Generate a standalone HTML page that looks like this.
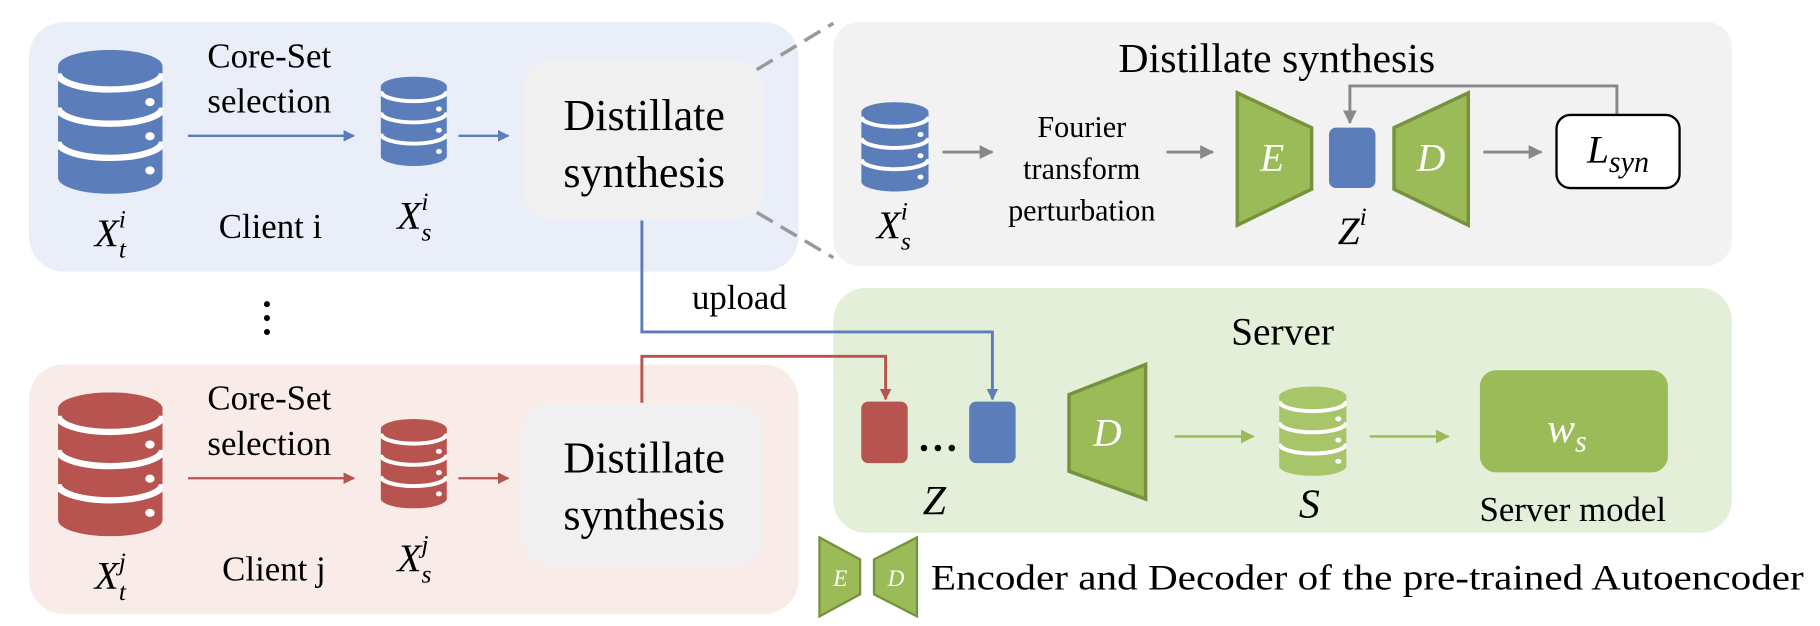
<!DOCTYPE html>
<html><head><meta charset="utf-8"><style>
html,body{margin:0;padding:0;background:#fff;width:1820px;height:626px;overflow:hidden}
svg{display:block;font-family:"Liberation Serif","Times New Roman",Times,serif}
svg text{font-family:"Liberation Serif","Times New Roman",Times,serif;fill:#000}
.m{font-style:italic}
</style></head><body>
<svg width="1820" height="626" viewBox="0 0 1568 539.3" preserveAspectRatio="none" xmlns="http://www.w3.org/2000/svg" font-family="Liberation Serif, Times New Roman, serif">
<defs>
<symbol id="db" viewBox="0 0 100 160" preserveAspectRatio="none">
<rect x="0" y="18" width="100" height="124" fill="currentColor"/>
<ellipse cx="50" cy="18" rx="50" ry="18" fill="currentColor"/>
<ellipse cx="50" cy="142" rx="50" ry="18" fill="currentColor"/>
<path d="M0,26 A50,18 0 0 0 100,26 M0,64 A50,18 0 0 0 100,64 M0,102 A50,18 0 0 0 100,102" stroke="#fff" stroke-width="7" fill="none"/>
<circle cx="88" cy="58" r="4.5" fill="#fff"/><circle cx="88" cy="96" r="4.5" fill="#fff"/><circle cx="88" cy="134" r="4.5" fill="#fff"/>
</symbol>
<marker id="ab" markerWidth="10" markerHeight="10" refX="9" refY="5" orient="auto" markerUnits="userSpaceOnUse"><path d="M0,0 L10,5 L0,10 z" fill="#5b7dba"/></marker>
<marker id="ar" markerWidth="10" markerHeight="10" refX="9" refY="5" orient="auto" markerUnits="userSpaceOnUse"><path d="M0,0 L10,5 L0,10 z" fill="#b85450"/></marker>
<marker id="ag" markerWidth="12" markerHeight="12" refX="11" refY="6" orient="auto" markerUnits="userSpaceOnUse"><path d="M0,0 L12,6 L0,12 z" fill="#888"/></marker>
<marker id="agr" markerWidth="12" markerHeight="12" refX="11" refY="6" orient="auto" markerUnits="userSpaceOnUse"><path d="M0,0 L12,6 L0,12 z" fill="#9bbb59"/></marker>
</defs>

<!-- client i -->
<rect x="25" y="19" width="663" height="215" rx="30" fill="#e9eef8"/>
<use href="#db" x="50" y="43" width="90" height="124" style="color:#5b7dba"/>
<text x="95" y="212" font-size="34" class="m" text-anchor="middle">X<tspan font-size="22" dy="-16">i</tspan><tspan font-size="22" dx="-6" dy="26">t</tspan></text>
<text x="232" y="58" font-size="30" text-anchor="middle">Core-Set</text>
<text x="232" y="97" font-size="30" text-anchor="middle">selection</text>
<line x1="162" y1="117" x2="305" y2="117" stroke="#5b7dba" stroke-width="2" marker-end="url(#ab)"/>
<use href="#db" x="328" y="66" width="57" height="77" style="color:#5b7dba"/>
<text x="357" y="197" font-size="34" class="m" text-anchor="middle">X<tspan font-size="22" dy="-16">i</tspan><tspan font-size="22" dx="-6" dy="26">s</tspan></text>
<text x="233" y="205" font-size="30" text-anchor="middle">Client i</text>
<line x1="395" y1="117" x2="438" y2="117" stroke="#5b7dba" stroke-width="2" marker-end="url(#ab)"/>
<rect x="450" y="52" width="208" height="137" rx="25" fill="#f0f0f0"/>
<text x="555" y="112" font-size="38" text-anchor="middle">Distillate</text>
<text x="555" y="161" font-size="38" text-anchor="middle">synthesis</text>

<line x1="652" y1="60" x2="718" y2="20" stroke="#999" stroke-width="3" stroke-dasharray="16,8"/>
<line x1="652" y1="183" x2="718" y2="222" stroke="#999" stroke-width="3" stroke-dasharray="16,8"/>

<circle cx="230" cy="262" r="2.6" fill="#000"/><circle cx="230" cy="274" r="2.6" fill="#000"/><circle cx="230" cy="286" r="2.6" fill="#000"/>

<!-- client j -->
<rect x="25" y="314" width="663" height="215" rx="30" fill="#f8ebe8"/>
<use href="#db" x="50" y="338" width="90" height="124" style="color:#b85450"/>
<text x="95" y="507" font-size="34" class="m" text-anchor="middle">X<tspan font-size="22" dy="-16">j</tspan><tspan font-size="22" dx="-6" dy="26">t</tspan></text>
<text x="232" y="353" font-size="30" text-anchor="middle">Core-Set</text>
<text x="232" y="392" font-size="30" text-anchor="middle">selection</text>
<line x1="162" y1="412" x2="305" y2="412" stroke="#b85450" stroke-width="2" marker-end="url(#ar)"/>
<use href="#db" x="328" y="361" width="57" height="77" style="color:#b85450"/>
<text x="357" y="492" font-size="34" class="m" text-anchor="middle">X<tspan font-size="22" dy="-16">j</tspan><tspan font-size="22" dx="-6" dy="26">s</tspan></text>
<text x="236" y="500" font-size="30" text-anchor="middle">Client j</text>
<line x1="395" y1="412" x2="438" y2="412" stroke="#b85450" stroke-width="2" marker-end="url(#ar)"/>
<rect x="450" y="347" width="208" height="140" rx="25" fill="#f0f0f0"/>
<text x="555" y="407" font-size="38" text-anchor="middle">Distillate</text>
<text x="555" y="456" font-size="38" text-anchor="middle">synthesis</text>

<!-- right gray panel -->
<rect x="718" y="19" width="774" height="210" rx="22" fill="#f2f2f2"/>
<text x="1100" y="62" font-size="36" text-anchor="middle">Distillate synthesis</text>
<use href="#db" x="742" y="88" width="58" height="77" style="color:#5b7dba"/>
<text x="770" y="205" font-size="34" class="m" text-anchor="middle">X<tspan font-size="22" dy="-16">i</tspan><tspan font-size="22" dx="-6" dy="26">s</tspan></text>
<line x1="812" y1="131" x2="855" y2="131" stroke="#888" stroke-width="2.5" marker-end="url(#ag)"/>
<text x="932" y="118" font-size="26" text-anchor="middle">Fourier</text>
<text x="932" y="154" font-size="26" text-anchor="middle">transform</text>
<text x="932" y="190" font-size="26" text-anchor="middle">perturbation</text>
<line x1="1005" y1="131" x2="1045" y2="131" stroke="#888" stroke-width="2.5" marker-end="url(#ag)"/>
<polygon points="1066,80 1130,110 1130,163 1066,194" fill="#9bbb59" stroke="#76923c" stroke-width="3"/>
<text x="1096" y="147" font-size="34" class="m" style="fill:#fff" text-anchor="middle">E</text>
<rect x="1145" y="110" width="40" height="52" rx="6" fill="#5b7dba"/>
<polygon points="1201,110 1265,80 1265,194 1201,163" fill="#9bbb59" stroke="#76923c" stroke-width="3"/>
<text x="1233" y="147" font-size="34" class="m" style="fill:#fff" text-anchor="middle">D</text>
<text x="1165" y="210" font-size="34" class="m" text-anchor="middle">Z<tspan font-size="22" dy="-16">i</tspan></text>
<polyline points="1393,99 1393,74 1163,74 1163,106" fill="none" stroke="#888" stroke-width="2.5" marker-end="url(#ag)"/>
<line x1="1278" y1="131" x2="1328" y2="131" stroke="#888" stroke-width="2.5" marker-end="url(#ag)"/>
<rect x="1341" y="99" width="106" height="63" rx="12" fill="#fff" stroke="#000" stroke-width="2"/>
<text x="1394" y="140" font-size="34" class="m" text-anchor="middle">L<tspan font-size="26" dy="8">syn</tspan></text>

<!-- server -->
<rect x="718" y="248" width="774" height="211" rx="28" fill="#e3efd9"/>
<text x="1105" y="297" font-size="34" text-anchor="middle">Server</text>
<polyline points="553,190 553,286 855,286 855,344" fill="none" stroke="#5b7dba" stroke-width="2.5" marker-end="url(#ab)"/>
<polyline points="553,347 553,307 763,307 763,344" fill="none" stroke="#b85450" stroke-width="2.5" marker-end="url(#ar)"/>
<text x="637" y="266" font-size="30" text-anchor="middle">upload</text>
<rect x="742" y="346" width="40" height="53" rx="6" fill="#b85450"/>
<rect x="835" y="346" width="40" height="53" rx="6" fill="#5b7dba"/>
<circle cx="796" cy="386" r="2.8" fill="#000"/><circle cx="808" cy="386" r="2.8" fill="#000"/><circle cx="820" cy="386" r="2.8" fill="#000"/>
<text x="805" y="443" font-size="36" class="m" text-anchor="middle">Z</text>
<polygon points="921,340 987,314 987,430 921,406" fill="#9bbb59" stroke="#76923c" stroke-width="3"/>
<text x="954" y="384" font-size="34" class="m" style="fill:#fff" text-anchor="middle">D</text>
<line x1="1012" y1="376" x2="1080" y2="376" stroke="#9bbb59" stroke-width="2" marker-end="url(#agr)"/>
<use href="#db" x="1102" y="333" width="58" height="77" style="color:#a9c56a"/>
<text x="1128" y="446" font-size="36" class="m" text-anchor="middle">S</text>
<line x1="1180" y1="376" x2="1248" y2="376" stroke="#9bbb59" stroke-width="2" marker-end="url(#agr)"/>
<rect x="1275" y="319" width="162" height="88" rx="14" fill="#9bbb59"/>
<text x="1350" y="381" font-size="36" class="m" style="fill:#fff" text-anchor="middle">w<tspan font-size="26" dy="8">s</tspan></text>
<text x="1355" y="449" font-size="30" text-anchor="middle">Server model</text>

<!-- legend -->
<polygon points="706,463 741,482 741,512 706,531" fill="#9bbb59" stroke="#76923c" stroke-width="2"/>
<text x="724" y="505" font-size="20" class="m" style="fill:#fff" text-anchor="middle">E</text>
<polygon points="753,482 790,463 790,531 753,512" fill="#9bbb59" stroke="#76923c" stroke-width="2"/>
<text x="772" y="505" font-size="20" class="m" style="fill:#fff" text-anchor="middle">D</text>
<text x="802" y="508" font-size="31" textLength="752" lengthAdjust="spacingAndGlyphs">Encoder and Decoder of the pre-trained Autoencoder</text>
</svg>
</body></html>
